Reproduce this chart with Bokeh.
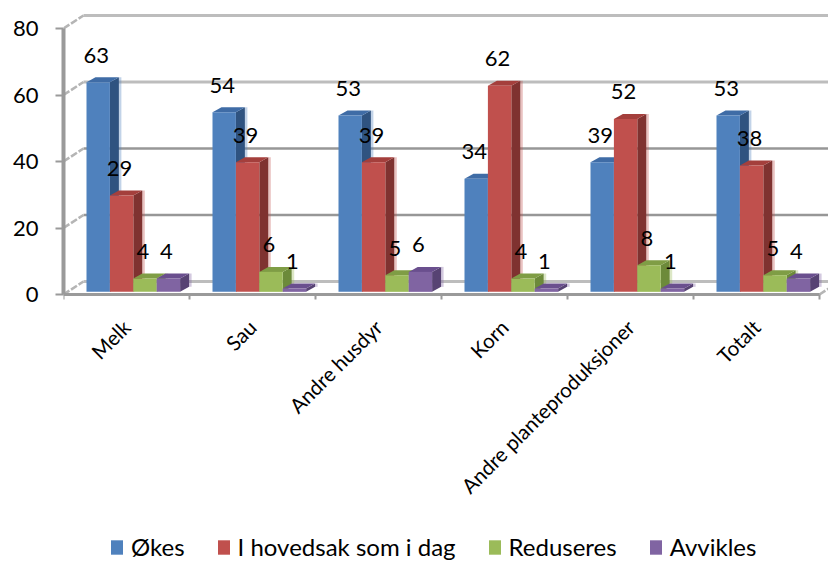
from math import pi
from bokeh.plotting import figure
from bokeh.models import Range1d, FixedTicker, Legend, LegendItem, ColumnDataSource
from bokeh.core.properties import value
from bokeh.embed import file_html
from bokeh.resources import INLINE

categories = ["Melk", "Sau", "Andre husdyr", "Korn", "Andre planteproduksjoner", "Totalt"]
okes = [63, 54, 53, 34, 39, 53]
som_i_dag = [29, 39, 39, 62, 52, 38]
reduseres = [4, 6, 5, 4, 8, 5]
avvikles = [4, 1, 6, 1, 1, 4]
series_names = ["Økes", "I hovedsak som i dag", "Reduseres", "Avvikles"]
y_ticks = [0, 20, 40, 60, 80]

FONT = "Lato"
front = ["#4f81bd", "#c0504d", "#9bbb59", "#8064a2"]
side = ["#2f5380", "#7f3230", "#6c8a3a", "#574373"]
top = ["#3f6ca6", "#a43f3c", "#7f9d45", "#6a4f8e"]

PX_X = 1 / 126          # data units per pixel, x
PX_Y = 1 / 3.325        # data units per pixel, y
WALL_DX, WALL_DY = 20 * PX_X, 13 * PX_Y
BAR_DX, BAR_DY = 9 * PX_X, 5 * PX_Y
HALO = 2.5 * PX_X
LIFT = 0.8
BAR_W = 23.4 * PX_X
GROUP_LEFT = 23 * PX_X

p = figure(frame_width=765, frame_height=553, output_backend="svg", toolbar_location=None,
           x_range=Range1d(0, 765 / 126), y_range=Range1d(-267 * PX_Y, 286 * PX_Y),
           min_border_left=63, min_border_right=0, min_border_top=8, min_border_bottom=0,
           outline_line_color=None, background_fill_color="white", border_fill_color="white")
p.grid.visible = False

# back wall and side wall of the 3D box
for t in y_ticks:
    light = t in (0, 60, 80)
    p.segment([WALL_DX], [t + WALL_DY], [p.x_range.end], [t + WALL_DY],
              line_color="#bdbdbd" if light else "#979797", line_width=3.2 if light else 2.4)
    p.segment([0], [t], [WALL_DX], [t + WALL_DY], line_color="#b5b5b5", line_width=2.6, line_dash="7 2")
p.segment([len(categories)], [0], [len(categories) + WALL_DX], [WALL_DY],
          line_color="#b5b5b5", line_width=2.6, line_dash="7 2")

# bars, left to right within each group
front_renderers = []
for s, vals in enumerate([okes, som_i_dag, reduseres, avvikles]):
    x0 = [i + GROUP_LEFT + s * BAR_W for i in range(len(vals))]
    x1 = [x + BAR_W for x in x0]
    yb = [LIFT] * len(vals)
    yt = [v + LIFT for v in vals]
    p.patches([[b + BAR_DX, b + BAR_DX + HALO, b + BAR_DX + HALO, b + BAR_DX] for b in x1],
              [[t + BAR_DY, t + BAR_DY, l + BAR_DY, l + BAR_DY] for t, l in zip(yt, yb)],
              fill_color=front[s], fill_alpha=0.35, line_color=None)
    p.patches([[b, b + BAR_DX, b + BAR_DX, b] for b in x1],
              [[t, t + BAR_DY, l + BAR_DY, l] for t, l in zip(yt, yb)],
              fill_color=side[s], line_color=None)
    p.patches([[a, a + BAR_DX, b + BAR_DX, b] for a, b in zip(x0, x1)],
              [[t, t + BAR_DY, t + BAR_DY, t] for t in yt],
              fill_color=top[s], line_color=None)
    r = p.vbar(x=[(a + b) / 2 for a, b in zip(x0, x1)], top=yt, bottom=yb, width=BAR_W,
               fill_color=front[s], line_color=None)
    front_renderers.append(r)

# data labels drawn last so that they sit above every bar
for s, vals in enumerate([okes, som_i_dag, reduseres, avvikles]):
    src = ColumnDataSource(dict(
        x=[i + GROUP_LEFT + (s + 0.5) * BAR_W for i in range(len(vals))],
        y=[v + LIFT for v in vals],
        t=[str(v) for v in vals]))
    p.text("x", "y", "t", source=src, text_font=value(FONT), text_font_size="22px",
           text_color="#000000", text_align="center", text_baseline="middle",
           x_offset=-2, y_offset=-27)

# axes
p.yaxis.ticker = FixedTicker(ticks=y_ticks)
p.yaxis.bounds = (0, 80)
p.yaxis.axis_line_color = "#9a9a9a"
p.yaxis.axis_line_width = 4
p.yaxis.major_tick_line_color = "#9a9a9a"
p.yaxis.major_tick_line_width = 2
p.yaxis.major_tick_in = 0
p.yaxis.major_tick_out = 8
p.yaxis.minor_tick_line_color = None
p.yaxis.major_label_standoff = 17
p.yaxis.major_label_text_font = FONT
p.yaxis.major_label_text_font_size = "22px"
p.yaxis.major_label_text_color = "#000000"

centers = [i + 0.5 for i in range(len(categories))]
p.xaxis.fixed_location = 0
p.xaxis.ticker = FixedTicker(ticks=centers, minor_ticks=list(range(len(categories) + 1)))
p.xaxis.major_label_overrides = dict(zip(centers, categories))
p.xaxis.bounds = (0, len(categories))
p.xaxis.axis_line_color = "#9a9a9a"
p.xaxis.axis_line_width = 3
p.xaxis.major_tick_line_color = None
p.xaxis.minor_tick_line_color = "#9a9a9a"
p.xaxis.minor_tick_line_width = 2
p.xaxis.minor_tick_in = 0
p.xaxis.minor_tick_out = 5
p.xaxis.major_label_orientation = pi / 4
p.xaxis.major_label_standoff = 23
p.xaxis.major_label_text_font = FONT
p.xaxis.major_label_text_font_size = "20.5px"
p.xaxis.major_label_text_color = "#000000"

legend = Legend(items=[LegendItem(label=n, renderers=[r]) for n, r in zip(series_names, front_renderers)],
                orientation="horizontal", location=(46, 0),
                border_line_color=None, background_fill_alpha=0,
                label_text_font=FONT, label_text_font_size="24px", label_text_color="#000000",
                glyph_width=15, glyph_height=18, label_standoff=7, spacing=31,
                padding=0, margin=0)
p.add_layout(legend, "center")

open("out.html", "w").write(file_html(p, INLINE))
